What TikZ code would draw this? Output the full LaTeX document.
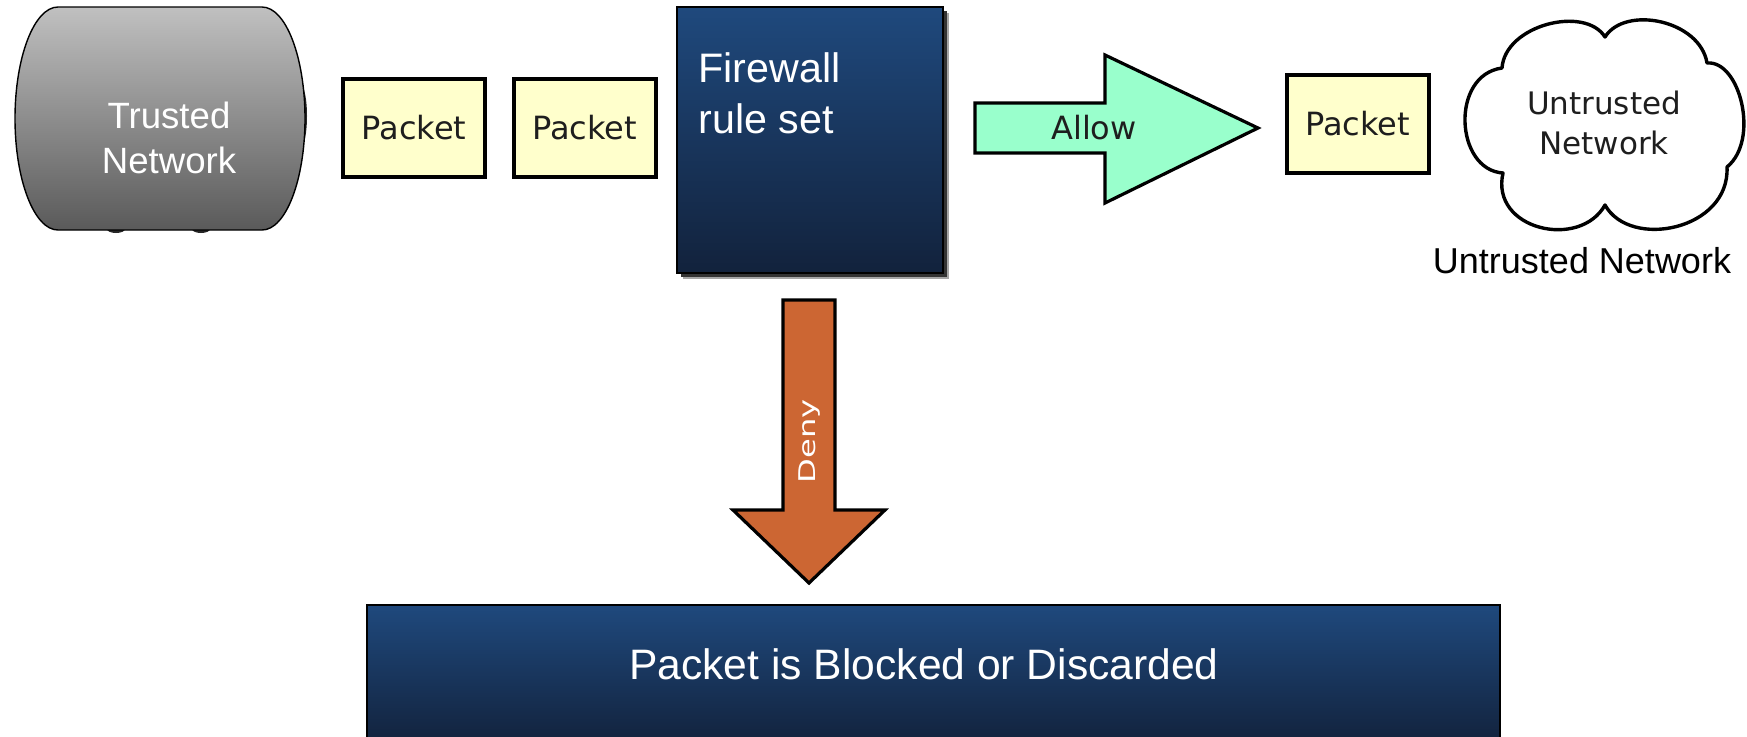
\documentclass[tikz,border=0pt]{standalone}
\usepackage{fontspec}
\setmainfont{Liberation Sans}
\newfontfamily\verd{DejaVu Sans}
\newfontfamily\verdtall[FakeStretch=1.4]{DejaVu Sans}

\definecolor{pkfill}{RGB}{255,255,204}
\definecolor{pktext}{RGB}{30,30,30}
\definecolor{allowfill}{RGB}{153,255,204}
\definecolor{denyfill}{RGB}{204,102,51}
\definecolor{navytop}{RGB}{31,73,125}
\definecolor{navybot}{RGB}{18,34,60}
\definecolor{greytop}{RGB}{192,192,192}
\definecolor{greybot}{RGB}{90,90,90}

\begin{document}
\begin{tikzpicture}[x=0.5pt,y=-0.5pt,
  packetbox/.style={draw=black, line width=2pt, fill=pkfill,
    minimum width=71pt, minimum height=49pt, inner sep=0pt,
    font=\verd\fontsize{16}{19}\selectfont, text=pktext},
  navyshade/.style={top color=navytop, bottom color=navybot, draw=black, line width=1pt},
  blockarrow/.style={draw=black, line width=1.6pt, line join=miter},
  lighttext/.style={text=white, inner sep=0pt},
  darktext/.style={text=pktext, inner sep=0pt}
]
% canvas
\fill[white] (0,0) rectangle (1747,736);
\useasboundingbox (0,0) rectangle (1747,736);

% trusted network: dark edges peeking out behind the shape
\fill[black!85] (116,229) ellipse [x radius=9, y radius=4];
\fill[black!85] (201,229) ellipse [x radius=9, y radius=4];
\fill[black!85] (301,116) ellipse [x radius=6, y radius=30];
% trusted network body: flat top and bottom, half-elliptic ends
\shade[top color=greytop, bottom color=greybot, draw=black, line width=0.7pt]
  (58,7) -- (262,7)
  .. controls (285.7,7) and (305,56.9) .. (305,118.5)
  .. controls (305,180.1) and (285.7,230) .. (262,230)
  -- (58,230)
  .. controls (34.3,230) and (15,180.1) .. (15,118.5)
  .. controls (15,56.9) and (34.3,7) .. (58,7) -- cycle;
\node[lighttext, align=center, font=\fontsize{18.3}{22.5}\selectfont] (trusted) at (169,138) {Trusted\\Network};

% packets on their way to the firewall
\node[packetbox] (p1) at (414,127.5) {Packet};
\node[packetbox] (p2) at (584.5,127.5) {Packet};

% firewall rule set box with drop shadow
\fill[black!35] (683,13) rectangle (949,279);
\fill[black!80] (681,11) rectangle (947,277);
\shade[navyshade] (677,7) rectangle (943,273);
\node[lighttext, align=left, anchor=north west, font=\fontsize{20.6}{25.5}\selectfont] (fw) at (698,52) {Firewall\\rule set};

% allow arrow
\path[blockarrow, fill=allowfill]
  (975,103) -- (1105,103) -- (1105,55) -- (1258,128) -- (1105,203) -- (1105,153) -- (975,153) -- cycle;
\node[darktext, font=\verd\fontsize{16}{19}\selectfont] (allow) at (1094,128) {Allow};

% packet that got through
\node[packetbox] (p3) at (1357.5,124) {Packet};

% untrusted network cloud
\filldraw[fill=white, draw=black, line width=1.7pt, line join=round]
  (1502,68) .. controls (1505,25) and (1585,5) .. (1605,37)
  .. controls (1625,5) and (1700,20) .. (1707,63)
  .. controls (1740,60) and (1760,140) .. (1727,167)
  .. controls (1730,230) and (1630,250) .. (1605,205)
  .. controls (1580,250) and (1490,230) .. (1503,173)
  .. controls (1455,170) and (1450,75) .. (1502,68) -- cycle;
\node[darktext, align=center, font=\verd\fontsize{15.5}{20}\selectfont] (cloud) at (1604,123) {Untrusted\\Network};
\node[darktext, anchor=base, text=black, font=\fontsize{18}{22}\selectfont] (untrusted) at (1582,273) {Untrusted Network};

% deny arrow
\path[blockarrow, fill=denyfill]
  (783,300) -- (835,300) -- (835,510) -- (885,510) -- (809,583) -- (733,510) -- (783,510) -- cycle;
\node[lighttext, rotate=90, font=\verdtall\fontsize{11.5}{14}\selectfont] (deny) at (810,441) {Deny};

% result box
\shade[navyshade] (367,605) rectangle (1500,745);
\node[lighttext, anchor=base, font=\fontsize{21.3}{25}\selectfont] (blocked) at (924,679) {Packet is Blocked or Discarded};
\end{tikzpicture}
\end{document}
